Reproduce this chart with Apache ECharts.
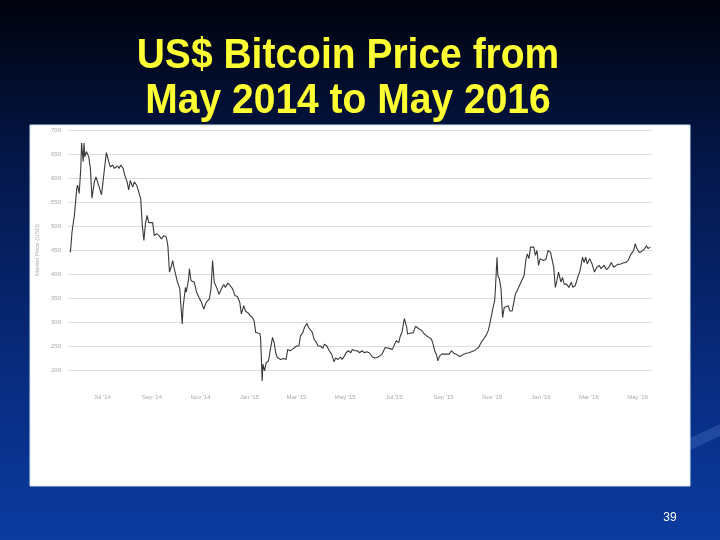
<!DOCTYPE html>
<html>
<head>
<meta charset="utf-8">
<script src="https://cdn.jsdelivr.net/npm/echarts@6/dist/echarts.min.js"></script>
<style>
html,body{margin:0;padding:0;background:#000;}
#c{width:720px;height:540px;}
</style>
</head>
<body>
<div id="c"></div>
<script>
// ---- data ----
const titleLines = ['US$ Bitcoin Price from', 'May 2014 to May 2016'];
const pageNumber = '39';
const yAxisName = 'Market Price (USD)';
const yTicks = [200, 250, 300, 350, 400, 450, 500, 550, 600, 650, 700];
const xTickDates = ['2014-07-01','2014-09-01','2014-11-01','2015-01-01','2015-03-01','2015-05-01',
                    '2015-07-01','2015-09-01','2015-11-01','2016-01-01','2016-03-01','2016-05-01'];
const xTickLabels = ["Jul '14","Sep '14","Nov '14","Jan '15","Mar '15","May '15",
                     "Jul '15","Sep '15","Nov '15","Jan '16","Mar '16","May '16"];
const xRange = ['2014-05-19', '2016-05-19'];

const dates = [
'2014-05-22','2014-05-24','2014-05-27','2014-05-29','2014-05-30','2014-05-31','2014-06-02','2014-06-04','2014-06-05','2014-06-07',
'2014-06-08','2014-06-09','2014-06-11','2014-06-14','2014-06-16','2014-06-18','2014-06-21','2014-06-23','2014-06-25','2014-06-27',
'2014-06-30','2014-07-02','2014-07-04','2014-07-06','2014-07-09','2014-07-11','2014-07-14','2014-07-16','2014-07-20','2014-07-22',
'2014-07-24','2014-07-27','2014-07-29','2014-08-01','2014-08-03','2014-08-05','2014-08-08','2014-08-10','2014-08-13','2014-08-15',
'2014-08-18','2014-08-20','2014-08-22','2014-08-24','2014-08-26','2014-08-28','2014-08-30','2014-09-02','2014-09-04','2014-09-07',
'2014-09-10','2014-09-13','2014-09-16','2014-09-19','2014-09-21','2014-09-23','2014-09-25','2014-09-27','2014-09-29','2014-10-03',
'2014-10-06','2014-10-07','2014-10-09','2014-10-10','2014-10-13','2014-10-14','2014-10-17','2014-10-18','2014-10-20','2014-10-24',
'2014-10-27','2014-10-30','2014-11-02','2014-11-05','2014-11-08','2014-11-12','2014-11-14','2014-11-16','2014-11-18','2014-11-21',
'2014-11-24','2014-11-27','2014-11-30','2014-12-02','2014-12-05','2014-12-08','2014-12-11','2014-12-14','2014-12-17','2014-12-20',
'2014-12-22','2014-12-25','2014-12-27','2014-12-29','2014-12-31','2015-01-02','2015-01-05','2015-01-07','2015-01-09','2015-01-11',
'2015-01-14','2015-01-15','2015-01-16','2015-01-17','2015-01-18','2015-01-20','2015-01-22','2015-01-25','2015-01-27','2015-01-30',
'2015-02-01','2015-02-03','2015-02-05','2015-02-07','2015-02-09','2015-02-11','2015-02-13','2015-02-16','2015-02-18','2015-02-21',
'2015-02-24','2015-02-26','2015-03-01','2015-03-04','2015-03-06','2015-03-09','2015-03-11','2015-03-14','2015-03-16','2015-03-18',
'2015-03-21','2015-03-23','2015-03-26','2015-03-28','2015-03-31','2015-04-03','2015-04-05','2015-04-08','2015-04-11','2015-04-14',
'2015-04-17','2015-04-19','2015-04-22','2015-04-25','2015-04-27','2015-04-30','2015-05-02','2015-05-05','2015-05-08','2015-05-10',
'2015-05-13','2015-05-16','2015-05-19','2015-05-22','2015-05-25','2015-05-28','2015-05-31','2015-06-04','2015-06-07','2015-06-10',
'2015-06-13','2015-06-16','2015-06-20','2015-06-22','2015-06-25','2015-06-29','2015-07-02','2015-07-04','2015-07-07','2015-07-09',
'2015-07-11','2015-07-14','2015-07-17','2015-07-18','2015-07-22','2015-07-25','2015-07-28','2015-07-30','2015-08-02','2015-08-05',
'2015-08-08','2015-08-11','2015-08-14','2015-08-17','2015-08-19','2015-08-21','2015-08-23','2015-08-25','2015-08-27','2015-08-30',
'2015-09-01','2015-09-04','2015-09-08','2015-09-11','2015-09-14','2015-09-17','2015-09-20','2015-09-23','2015-09-26','2015-09-30',
'2015-10-03','2015-10-06','2015-10-09','2015-10-12','2015-10-15','2015-10-18','2015-10-21','2015-10-24','2015-10-27','2015-10-29',
'2015-10-31','2015-11-02','2015-11-04','2015-11-05','2015-11-07','2015-11-08','2015-11-10','2015-11-12','2015-11-14','2015-11-16',
'2015-11-18','2015-11-21','2015-11-23','2015-11-26','2015-11-28','2015-11-30','2015-12-02','2015-12-04','2015-12-06','2015-12-09',
'2015-12-11','2015-12-13','2015-12-15','2015-12-17','2015-12-19','2015-12-21','2015-12-23','2015-12-25','2015-12-27','2015-12-29',
'2015-12-31','2016-01-04','2016-01-07','2016-01-10','2016-01-13','2016-01-15','2016-01-17','2016-01-19','2016-01-21','2016-01-23',
'2016-01-26','2016-01-28','2016-01-30','2016-02-02','2016-02-05','2016-02-08','2016-02-10','2016-02-13','2016-02-16','2016-02-19',
'2016-02-22','2016-02-24','2016-02-26','2016-02-28','2016-03-02','2016-03-05','2016-03-08','2016-03-11','2016-03-14','2016-03-16',
'2016-03-20','2016-03-23','2016-03-26','2016-03-29','2016-04-01','2016-04-03','2016-04-06','2016-04-10','2016-04-13','2016-04-16',
'2016-04-19','2016-04-21','2016-04-23','2016-04-26','2016-04-28','2016-04-30','2016-05-03','2016-05-06','2016-05-08','2016-05-10',
'2016-05-12','2016-05-14','2016-05-17'
];
const prices = [
445,487,522,526,579,585,568,620,673,634,
673,644,655,644,620,558,592,602,592,595,
565,595,592,653,634,623,627,620,625,620,
627,620,606,592,575,595,581,592,585,586,
557,501,470,505,522,507,510,507,480,484,
480,473,480,477,459,404,414,428,411,383,
369,341,296,330,372,362,390,411,386,383,
362,351,341,327,341,348,369,428,383,372,
358,369,378,372,381,376,369,355,353,341,
317,334,323,320,318,313,309,302,278,275,
276,268,226,177,212,198,215,219,240,268,
257,236,226,222,222,219,224,222,243,240,
243,240,250,250,271,278,289,297,289,292,
278,264,257,250,250,245,254,250,240,233,
217,225,222,227,222,229,236,240,236,243,
240,240,236,240,236,238,236,227,225,226,
229,233,247,243,245,243,254,261,257,271,
278,307,289,275,277,277,291,294,285,282,
275,271,268,264,254,240,233,219,229,233,
229,233,233,240,235,233,229,229,233,235,
236,238,240,243,247,257,264,271,282,296,
313,330,344,369,435,397,390,369,309,330,
326,334,323,323,320,358,362,372,369,390,
397,428,442,432,456,453,456,439,449,418,
432,428,430,449,445,442,414,372,386,404,
383,393,379,379,372,383,372,376,393,407,
435,424,435,421,432,421,404,414,418,411,
418,409,414,424,414,418,420,421,423,424,
428,427,442,449,463,453,445,447,443,453,
459,453,456
];

// ---- chart ----
const toTs = s => { const p = s.split('-').map(Number); return Date.UTC(p[0], p[1] - 1, p[2]); };
const chart = echarts.init(document.getElementById('c'), null, {renderer: 'canvas', width: 720, height: 540});
const tickTs = xTickDates.map(toTs);
const labelFor = {};
tickTs.forEach((t, i) => { labelFor[t] = xTickLabels[i]; });

const titleFont = 'bold 39px "Liberation Sans", Arial, sans-serif';

chart.setOption({
  animation: false,
  backgroundColor: {
    type: 'linear', x: 0, y: 0, x2: 0, y2: 1,
    colorStops: [
      {offset: 0, color: '#00030d'},
      {offset: 0.3, color: '#04174a'},
      {offset: 0.7, color: '#082c80'},
      {offset: 1, color: '#0b3ba0'}
    ]
  },
  graphic: [
    {type: 'polygon', z: -20, shape: {points: [[690, 438], [720, 424], [720, 436], [690, 450]]},
     style: {fill: 'rgba(90,130,210,0.3)'}},
    {type: 'rect', z: -10, shape: {x: 30, y: 125, width: 660, height: 361},
     style: {fill: '#ffffff', stroke: '#d4e8f4', lineWidth: 1}},
    {type: 'text', z: 100, x: 348, y: 56, scaleY: 1.1, style: {text: titleLines[0], font: titleFont, fill: '#ffff33',
      textAlign: 'center', textVerticalAlign: 'middle'}},
    {type: 'text', z: 100, x: 348, y: 101, scaleY: 1.1, style: {text: titleLines[1], font: titleFont, fill: '#ffff33',
      textAlign: 'center', textVerticalAlign: 'middle'}},
    {type: 'text', z: 100, x: 670, y: 518, style: {text: pageNumber, font: '12px "Liberation Sans", Arial, sans-serif',
      fill: '#ffffff', textAlign: 'center', textVerticalAlign: 'middle'}}
  ],
  grid: {left: 68, right: 68, top: 130, bottom: 170},
  xAxis: {
    type: 'value',
    min: toTs(xRange[0]), max: toTs(xRange[1]),
    axisLine: {show: false}, axisTick: {show: false}, splitLine: {show: false},
    axisLabel: {
      customValues: tickTs,
      formatter: v => labelFor[v] || '',
      fontSize: 6, color: '#aaaaaa', margin: 24, fontFamily: 'Liberation Sans'
    }
  },
  yAxis: {
    type: 'value', min: yTicks[0], max: yTicks[yTicks.length - 1], interval: 50,
    name: yAxisName, nameLocation: 'middle', nameGap: 18,
    nameTextStyle: {fontSize: 6, color: '#aaaaaa', fontFamily: 'Liberation Sans'},
    axisLine: {show: false}, axisTick: {show: false},
    axisLabel: {fontSize: 6, color: '#aaaaaa', margin: 7, fontFamily: 'Liberation Sans'},
    splitLine: {lineStyle: {color: '#dedede', width: 1}}
  },
  series: [{
    type: 'line',
    data: dates.map((d, i) => [toTs(d), prices[i]]),
    showSymbol: false,
    clip: false,
    lineStyle: {color: '#3a3a3a', width: 1.1},
    z: 5
  }]
});
</script>
</body>
</html>
